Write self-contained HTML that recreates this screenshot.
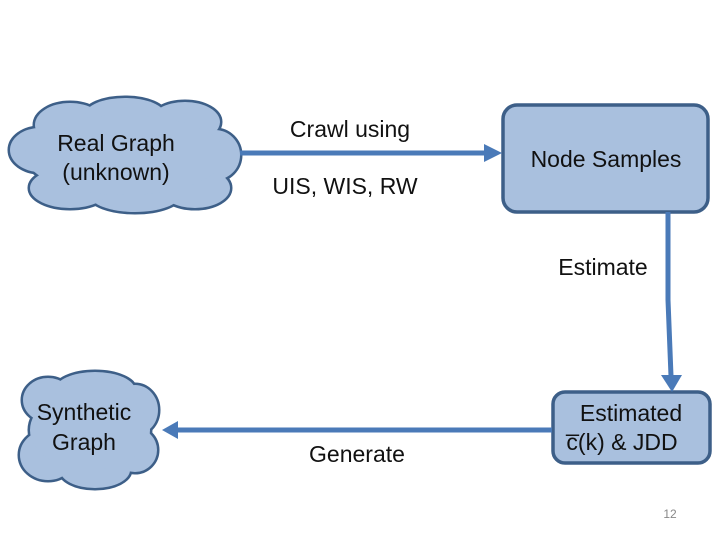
<!DOCTYPE html>
<html><head><style>
body{margin:0;background:#fff;}
svg{display:block;font-family:"Comic Sans MS","Liberation Sans",sans-serif;}
</style></head><body>
<svg width="720" height="540" viewBox="0 0 720 540">
<defs>
<g id="c1">
<ellipse cx="40" cy="150" rx="30" ry="22"/><ellipse cx="70" cy="125" rx="35" ry="22"/>
<ellipse cx="125" cy="115" rx="40" ry="17"/><ellipse cx="185" cy="122" rx="35" ry="20"/>
<ellipse cx="215" cy="155" rx="25" ry="25"/><ellipse cx="195" cy="188" rx="35" ry="20"/>
<ellipse cx="135" cy="195" rx="45" ry="17"/><ellipse cx="70" cy="188" rx="40" ry="20"/>
<ellipse cx="125" cy="155" rx="100" ry="40"/>
</g>
<g id="c2">
<ellipse cx="48" cy="400" rx="25" ry="22"/><ellipse cx="95" cy="390" rx="40" ry="18"/>
<ellipse cx="135" cy="410" rx="23" ry="25"/><ellipse cx="135" cy="450" rx="22" ry="22"/>
<ellipse cx="95" cy="470" rx="35" ry="18"/><ellipse cx="48" cy="455" rx="28" ry="25"/>
<ellipse cx="90" cy="430" rx="60" ry="40"/>
</g>
</defs>
<g fill="none" stroke="#3d5f88" stroke-width="5"><use href="#c1"/><use href="#c2"/></g>
<g fill="#a9c0de" stroke="none"><use href="#c1"/><use href="#c2"/></g>
<rect x="503" y="105" width="205" height="107" rx="14" fill="#a9c0de" stroke="#3d5f88" stroke-width="3.5"/>
<rect x="553" y="392" width="157" height="71" rx="12" fill="#a9c0de" stroke="#3d5f88" stroke-width="3.5"/>
<g stroke="#4a7ab8" stroke-width="5" fill="none">
<line x1="240" y1="153" x2="484" y2="153"/>
<polyline points="668,212 668,300 671,376"/>
<line x1="552" y1="430" x2="178" y2="430"/>
</g>
<g fill="#4a7ab8">
<polygon points="484,144 502,153 484,162"/>
<polygon points="661,375 682,375 672,392"/>
<polygon points="178,421 162,430 178,439"/>
</g>
<g font-size="23" fill="#111" text-anchor="middle">
<text x="116" y="151">Real Graph</text><text x="116" y="180">(unknown)</text>
<text x="350" y="137">Crawl using</text>
<text x="345" y="194">UIS, WIS, RW</text>
<text x="606" y="167">Node Samples</text>
<text x="603" y="275">Estimate</text>
<text x="84" y="420">Synthetic</text><text x="84" y="450">Graph</text>
<text x="357" y="462">Generate</text>
<text x="631" y="421">Estimated</text>
<text x="622" y="450">c̅(k) &amp; JDD</text>
</g>
<text x="670" y="518" font-size="12" fill="#888" text-anchor="middle">12</text>
</svg>
</body></html>
